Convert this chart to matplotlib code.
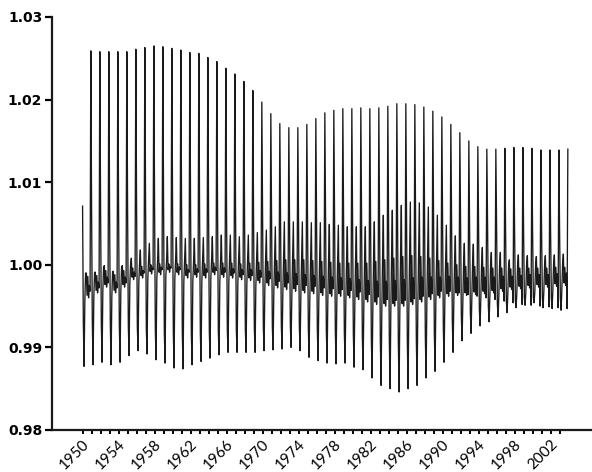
import numpy as np
import matplotlib
matplotlib.use("Agg")
import matplotlib.pyplot as plt

# monthly seasonal factors, one list per calendar month, years 1950..2003
years = list(range(1950, 2004))

jan = [1.0071, 1.0070, 1.0070, 1.0069, 1.0069, 1.0070, 1.0071, 1.0072, 1.0071, 1.0070,
       1.0069, 1.0068, 1.0067, 1.0066, 1.0064, 1.0062, 1.0060, 1.0058, 1.0055, 1.0052,
       1.0050, 1.0048, 1.0047, 1.0047, 1.0048, 1.0050, 1.0051, 1.0052, 1.0053, 1.0053,
       1.0053, 1.0052, 1.0052, 1.0053, 1.0054, 1.0055, 1.0055, 1.0054, 1.0053, 1.0051,
       1.0049, 1.0046, 1.0043, 1.0041, 1.0040, 1.0040, 1.0040, 1.0040, 1.0041, 1.0041,
       1.0040, 1.0040, 1.0040, 1.0040]
feb = [0.9930, 0.9929, 0.9928, 0.9927, 0.9926, 0.9925, 0.9924, 0.9922, 0.9920, 0.9918,
       0.9917, 0.9916, 0.9916, 0.9917, 0.9918, 0.9919, 0.9920, 0.9921, 0.9922, 0.9923,
       0.9924, 0.9925, 0.9926, 0.9926, 0.9925, 0.9923, 0.9921, 0.9920, 0.9919, 0.9918,
       0.9916, 0.9914, 0.9911, 0.9908, 0.9906, 0.9905, 0.9906, 0.9908, 0.9912, 0.9917,
       0.9923, 0.9930, 0.9937, 0.9942, 0.9946, 0.9950, 0.9953, 0.9956, 0.9958, 0.9960,
       0.9961, 0.9960, 0.9960, 0.9960]
mar = [0.9877, 0.9879, 0.9882, 0.9879, 0.9882, 0.9890, 0.9896, 0.9892, 0.9885, 0.9881,
       0.9875, 0.9874, 0.9879, 0.9883, 0.9887, 0.9891, 0.9894, 0.9894, 0.9894, 0.9894,
       0.9896, 0.9897, 0.9898, 0.9900, 0.9896, 0.9888, 0.9884, 0.9881, 0.9880, 0.9881,
       0.9876, 0.9873, 0.9863, 0.9854, 0.9850, 0.9846, 0.9850, 0.9854, 0.9863, 0.9871,
       0.9882, 0.9894, 0.9908, 0.9917, 0.9926, 0.9931, 0.9937, 0.9942, 0.9948, 0.9951,
       0.9954, 0.9948, 0.9947, 0.9945]
apr = [0.9955, 0.9961, 0.9968, 0.9961, 0.9968, 0.9977, 0.9979, 0.9984, 0.9983, 0.9986,
       0.9983, 0.9979, 0.9980, 0.9979, 0.9983, 0.9980, 0.9979, 0.9977, 0.9976, 0.9973,
       0.9970, 0.9967, 0.9965, 0.9963, 0.9961, 0.9960, 0.9958, 0.9957, 0.9957, 0.9955,
       0.9953, 0.9950, 0.9947, 0.9945, 0.9945, 0.9945, 0.9947, 0.9950, 0.9953, 0.9955,
       0.9957, 0.9958, 0.9958, 0.9959, 0.9960, 0.9961, 0.9963, 0.9965, 0.9966, 0.9967,
       0.9968, 0.9968, 0.9969, 0.9970]
may = [0.9990, 0.9991, 0.9997, 0.9992, 0.9997, 1.0000, 1.0002, 1.0004, 1.0005, 1.0005,
       1.0005, 1.0004, 1.0004, 1.0005, 1.0006, 1.0006, 1.0006, 1.0005, 1.0006, 1.0007,
       1.0008, 1.0009, 1.0010, 1.0010, 1.0010, 1.0009, 1.0008, 1.0007, 1.0006, 1.0006,
       1.0006, 1.0006, 1.0008, 1.0010, 1.0012, 1.0014, 1.0015, 1.0014, 1.0012, 1.0009,
       1.0006, 1.0004, 1.0002, 1.0002, 1.0001, 1.0000, 1.0000, 0.9999, 1.0000, 1.0000,
       1.0000, 1.0000, 1.0001, 1.0001]
jun = [0.9990, 0.9991, 0.9999, 0.9992, 0.9999, 1.0008, 1.0018, 1.0026, 1.0032, 1.0034,
       1.0033, 1.0032, 1.0032, 1.0033, 1.0034, 1.0036, 1.0036, 1.0034, 1.0036, 1.0039,
       1.0042, 1.0046, 1.0052, 1.0052, 1.0052, 1.0051, 1.0051, 1.0049, 1.0048, 1.0046,
       1.0046, 1.0046, 1.0052, 1.0060, 1.0066, 1.0072, 1.0076, 1.0075, 1.0070, 1.0060,
       1.0048, 1.0035, 1.0026, 1.0025, 1.0021, 1.0015, 1.0015, 1.0006, 1.0012, 1.0011,
       1.0010, 1.0011, 1.0012, 1.0013]
jul = [0.9963, 0.9969, 0.9976, 0.9969, 0.9976, 0.9985, 0.9987, 0.9992, 0.9991, 0.9994,
       0.9991, 0.9987, 0.9988, 0.9987, 0.9991, 0.9988, 0.9987, 0.9985, 0.9984, 0.9981,
       0.9978, 0.9975, 0.9973, 0.9971, 0.9969, 0.9968, 0.9966, 0.9965, 0.9965, 0.9963,
       0.9961, 0.9958, 0.9955, 0.9953, 0.9953, 0.9953, 0.9955, 0.9958, 0.9961, 0.9963,
       0.9965, 0.9966, 0.9966, 0.9967, 0.9968, 0.9969, 0.9971, 0.9973, 0.9974, 0.9975,
       0.9976, 0.9976, 0.9977, 0.9978]
aug = [0.9986, 0.9987, 0.9993, 0.9988, 0.9993, 0.9996, 0.9998, 1.0000, 1.0001, 1.0001,
       1.0001, 1.0000, 1.0000, 1.0001, 1.0002, 1.0002, 1.0002, 1.0001, 1.0002, 1.0003,
       1.0004, 1.0005, 1.0006, 1.0006, 1.0006, 1.0005, 1.0004, 1.0003, 1.0002, 1.0002,
       1.0002, 1.0002, 1.0004, 1.0006, 1.0008, 1.0010, 1.0011, 1.0010, 1.0008, 1.0005,
       1.0002, 1.0000, 0.9998, 0.9998, 0.9997, 0.9996, 0.9996, 0.9995, 0.9996, 0.9996,
       0.9996, 0.9996, 0.9997, 0.9997]
sep = [0.9960, 0.9966, 0.9973, 0.9966, 0.9973, 0.9982, 0.9984, 0.9989, 0.9988, 0.9991,
       0.9988, 0.9984, 0.9985, 0.9984, 0.9988, 0.9985, 0.9984, 0.9982, 0.9981, 0.9978,
       0.9975, 0.9972, 0.9970, 0.9968, 0.9966, 0.9965, 0.9963, 0.9962, 0.9962, 0.9960,
       0.9958, 0.9955, 0.9952, 0.9950, 0.9950, 0.9950, 0.9952, 0.9955, 0.9958, 0.9960,
       0.9962, 0.9963, 0.9963, 0.9964, 0.9965, 0.9966, 0.9968, 0.9970, 0.9971, 0.9972,
       0.9973, 0.9973, 0.9974, 0.9975]
oct = [0.9975, 0.9979, 0.9985, 0.9979, 0.9985, 0.9991, 0.9993, 0.9997, 0.9997, 0.9998,
       0.9997, 0.9994, 0.9995, 0.9995, 0.9997, 0.9996, 0.9995, 0.9994, 0.9994, 0.9993,
       0.9992, 0.9991, 0.9990, 0.9989, 0.9988, 0.9987, 0.9986, 0.9985, 0.9984, 0.9983,
       0.9982, 0.9981, 0.9980, 0.9980, 0.9981, 0.9982, 0.9984, 0.9985, 0.9985, 0.9985,
       0.9986, 0.9985, 0.9984, 0.9985, 0.9985, 0.9985, 0.9986, 0.9986, 0.9987, 0.9988,
       0.9988, 0.9988, 0.9989, 0.9990]
nov = [0.9968, 0.9972, 0.9978, 0.9972, 0.9978, 0.9986, 0.9990, 0.9994, 0.9994, 0.9996,
       0.9994, 0.9991, 0.9991, 0.9991, 0.9993, 0.9991, 0.9990, 0.9988, 0.9987, 0.9985,
       0.9983, 0.9980, 0.9978, 0.9976, 0.9975, 0.9974, 0.9972, 0.9971, 0.9970, 0.9969,
       0.9967, 0.9964, 0.9961, 0.9958, 0.9957, 0.9957, 0.9959, 0.9962, 0.9965, 0.9968,
       0.9968, 0.9966, 0.9964, 0.9962, 0.9960, 0.9958, 0.9956, 0.9954, 0.9952, 0.9951,
       0.9950, 0.9949, 0.9948, 0.9947]
dec = [1.0259, 1.0258, 1.0258, 1.0258, 1.0258, 1.0261, 1.0263, 1.0265, 1.0264, 1.0262,
       1.0260, 1.0257, 1.0256, 1.0251, 1.0246, 1.0238, 1.0231, 1.0222, 1.0211, 1.0197,
       1.0183, 1.0171, 1.0166, 1.0166, 1.0170, 1.0177, 1.0184, 1.0187, 1.0189, 1.0189,
       1.0190, 1.0189, 1.0190, 1.0192, 1.0195, 1.0195, 1.0194, 1.0191, 1.0186, 1.0179,
       1.0170, 1.0160, 1.0150, 1.0143, 1.0140, 1.0140, 1.0141, 1.0142, 1.0142, 1.0141,
       1.0139, 1.0139, 1.0139, 1.0140]

y_ticks = [0.98, 0.99, 1.00, 1.01, 1.02, 1.03]
y_labels = ["0.98", "0.99", "1.00", "1.01", "1.02", "1.03"]
label_years = list(range(1950, 2003, 4))

vals = np.column_stack([jan, feb, mar, apr, may, jun, jul, aug, sep, oct, nov, dec]).ravel()
t = years[0] + np.arange(len(vals)) / 12.0

fig = plt.figure(figsize=(5.92, 4.72), dpi=100)
ax = fig.add_axes([0.0878, 0.089, 0.9122, 0.875])
ax.plot(t, vals, color="#1a1a1a", lw=0.95)

ax.set_ylim(0.98, 1.03)
ax.set_xlim(1946.6, 2006.6)
ax.set_yticks(y_ticks)
ax.set_yticklabels(y_labels, fontsize=10, fontweight="bold", family="DejaVu Sans")
ax.set_xticks(years)
ax.set_xticklabels([str(y) if y in label_years else "" for y in years],
                   rotation=45, ha="right", va="top", rotation_mode="anchor",
                   fontsize=11, family="Lato")
for lab in ax.get_xticklabels():
    lab.set_x(lab.get_position()[0])

for s in ["top", "right"]:
    ax.spines[s].set_visible(False)
for s in ["left", "bottom"]:
    ax.spines[s].set_linewidth(1.6)
    ax.spines[s].set_color("#1a1a1a")
ax.tick_params(axis="y", length=5, width=1.6, pad=2)
ax.tick_params(axis="x", length=3, width=1.4, pad=2)

fig.savefig("out.png", dpi=100)
